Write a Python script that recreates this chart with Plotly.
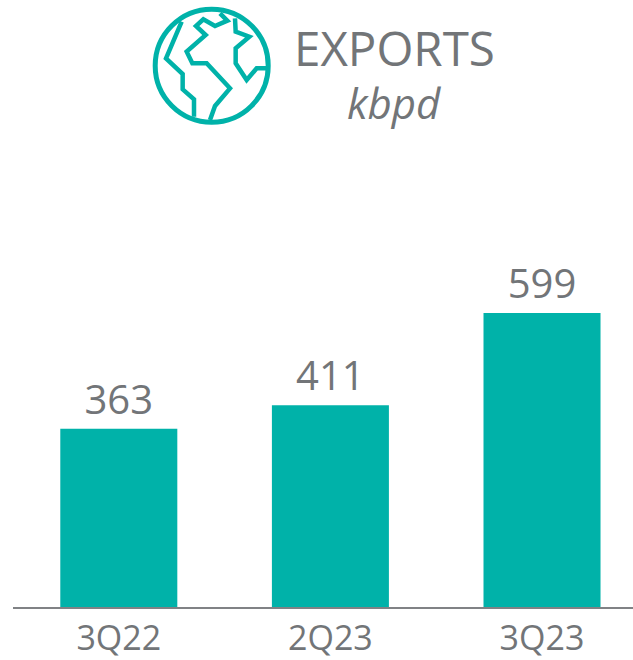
import plotly.graph_objects as go

categories = ["3Q22", "2Q23", "3Q23"]
values = [363, 411, 599]
title = "EXPORTS"
unit = "kbpd"
TEAL = "#00B2A9"
GREY = "#727578"
FONT = "Open Sans, Noto Sans, sans-serif"

# Figure fills the window; the page's default body margin is removed below.
L, B, W, H = 13, 53, 633, 660
PX0, PY0 = 13, 607
PW, PH = W - L, H - B


def px(x):
    return (x - PX0) / PW


def py(y):
    return (PY0 - y) / PH


fig = go.Figure(go.Bar(
    x=categories, y=values, width=0.553,
    marker=dict(color=TEAL, line_width=0),
    text=values, textposition="outside", cliponaxis=False,
    textfont=dict(size=40, color=GREY, family=FONT),
))
fig.update_layout(
    width=W, height=H, autosize=False, showlegend=False,
    paper_bgcolor="white", plot_bgcolor="white",
    margin=dict(l=L, r=0, t=0, b=B),
    font=dict(family=FONT, color=GREY),
)
fig.update_xaxes(
    type="category", range=[-0.5, 2.43], showgrid=False, ticks="", showline=True,
    linecolor="#808285", linewidth=2, tickfont=dict(size=34, color=GREY, family=FONT),
)
fig.update_yaxes(visible=False, range=[0, 1237])

# Globe icon
cx, cy, r = 211.7, 65.7, 56.5
fig.add_shape(type="circle", xref="paper", yref="paper",
              x0=px(cx - r), x1=px(cx + r), y0=py(cy - r), y1=py(cy + r),
              line=dict(color=TEAL, width=5), fillcolor="white")


def path(points):
    coords = [(px(140 + a / 3), py(b / 3)) for a, b in points]
    return "M " + " L ".join(f"{x},{y}" for x, y in coords)


continents = [
    [(125, 65), (78, 175), (128, 222), (128, 268), (162, 298), (162, 350)],
    [(240, 40), (262, 62), (225, 78), (190, 58), (168, 78), (197, 105), (140, 155),
     (157, 190), (200, 190), (270, 265), (225, 318), (210, 360)],
    [(285, 55), (287, 95), (328, 110), (287, 145), (287, 190), (320, 240), (350, 205), (385, 205)],
]
for pts in continents:
    fig.add_shape(type="path", xref="paper", yref="paper", path=path(pts),
                  line=dict(color=TEAL, width=4.5))

fig.add_annotation(text=title, xref="paper", yref="paper", x=px(394), y=py(48),
                   xanchor="center", yanchor="middle", showarrow=False,
                   font=dict(size=47.5, color=GREY, family=FONT))
fig.add_annotation(text=f"<i>{unit}</i>", xref="paper", yref="paper", x=px(394), y=py(102),
                   xanchor="center", yanchor="middle", showarrow=False,
                   font=dict(size=42, color=GREY, family=FONT))

fig.write_html("out.html", config={"displayModeBar": False},
               post_script="document.body.style.margin='0';")
